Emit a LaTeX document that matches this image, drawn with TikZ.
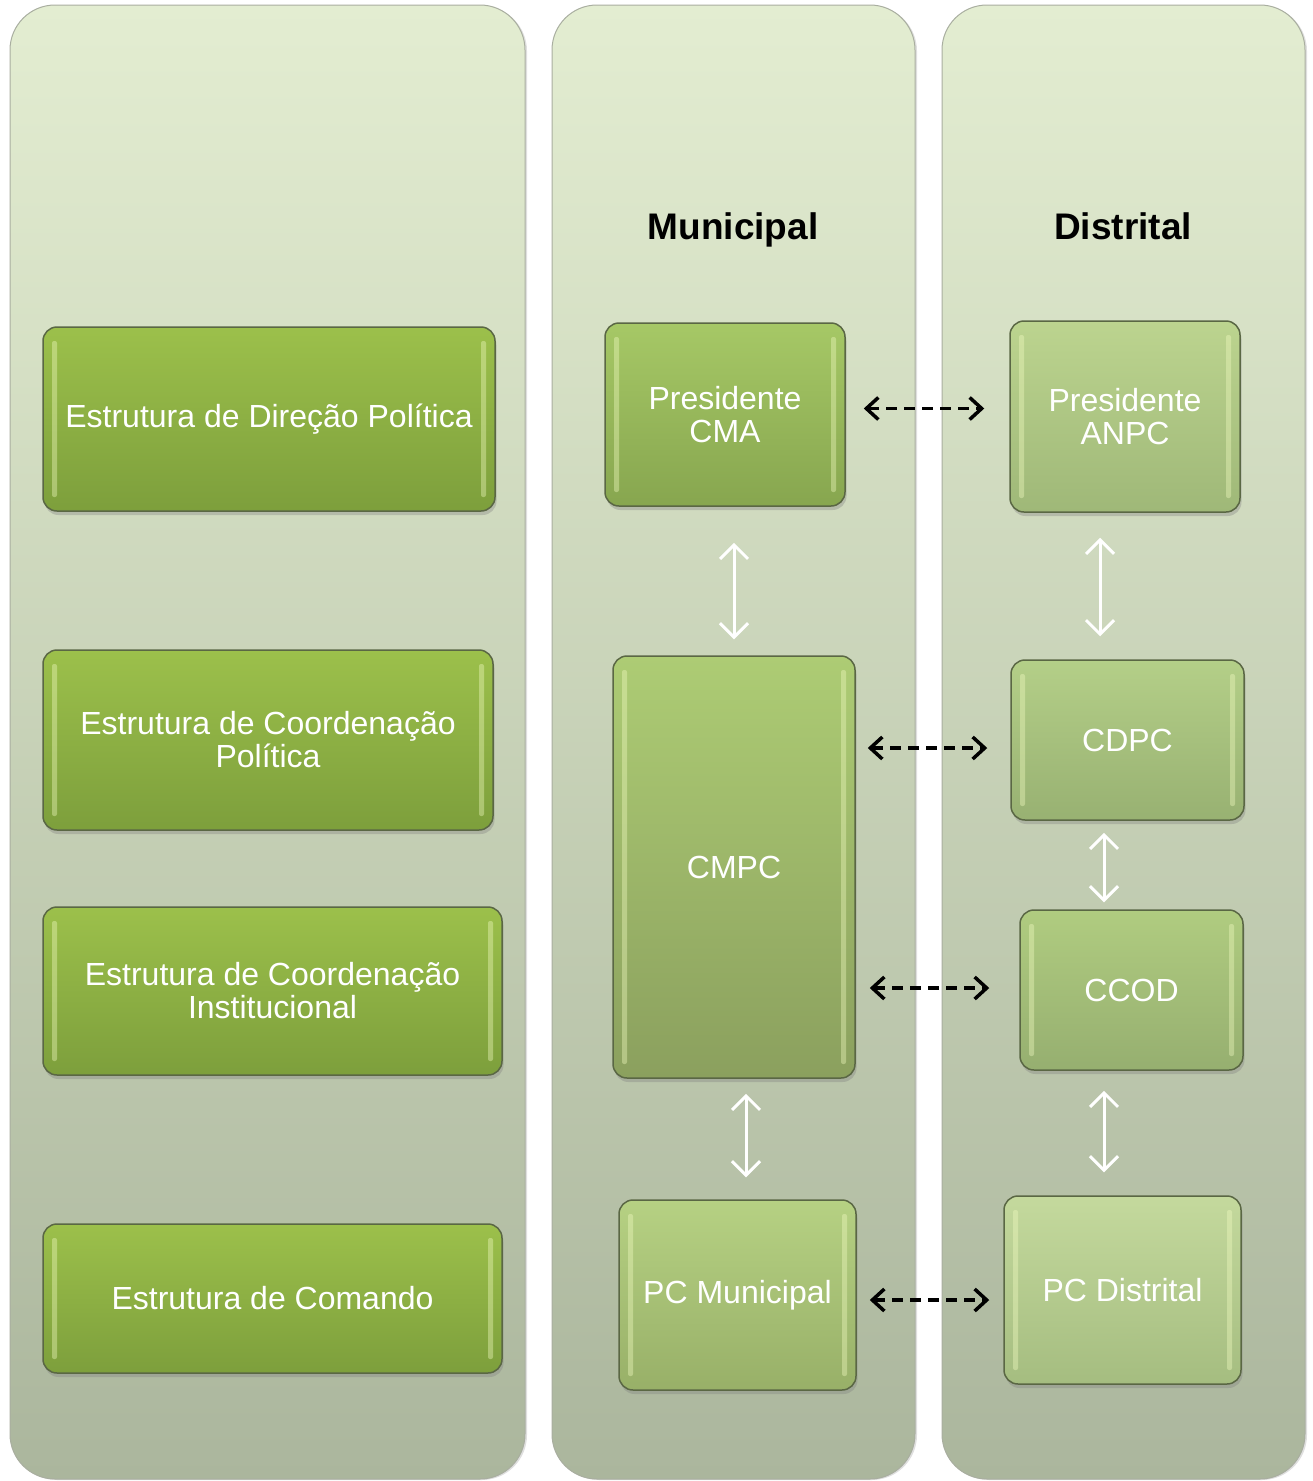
\documentclass[tikz,border=0pt]{standalone}
\usepackage{fontspec}
\setmainfont{Liberation Sans}
\usepackage{tikz}
\usetikzlibrary{positioning,arrows.meta,calc,shadows}
\definecolor{panelTop}{HTML}{E3EDD1}
\definecolor{panelBot}{HTML}{ABB69D}
\definecolor{panelEdge}{HTML}{A9AEA0}
\definecolor{boxEdge}{HTML}{5A6744}
\definecolor{hiLite}{HTML}{F0FAC0}
\definecolor{levTop}{HTML}{9CC04B}
\definecolor{levBot}{HTML}{7D9F3C}
\definecolor{cmaTop}{HTML}{A6C866}
\definecolor{cmaBot}{HTML}{87A64F}
\definecolor{cmpcTop}{HTML}{ADCC74}
\definecolor{cmpcBot}{HTML}{8BA05E}
\definecolor{pcmTop}{HTML}{B6D183}
\definecolor{pcmBot}{HTML}{98B068}
\definecolor{anpcTop}{HTML}{BCD48F}
\definecolor{anpcBot}{HTML}{9FB878}
\definecolor{cdpcTop}{HTML}{B4CF88}
\definecolor{cdpcBot}{HTML}{98B172}
\definecolor{ccodTop}{HTML}{B0CC80}
\definecolor{ccodBot}{HTML}{96AF70}
\definecolor{pcdTop}{HTML}{C4D99D}
\definecolor{pcdBot}{HTML}{A5BD80}
\tikzset{
  painel/.style={rounded corners=45pt, top color=panelTop, bottom color=panelBot, draw=panelEdge, line width=1pt,
    drop shadow={shadow xshift=2pt, shadow yshift=-1pt, opacity=.25}},
  realce/.style={path picture={
      \fill[hiLite, opacity=.4, rounded corners=2pt] ([xshift=9pt,yshift=-14pt]path picture bounding box.north west) rectangle ([xshift=14pt,yshift=14pt]path picture bounding box.south west);
      \fill[hiLite, opacity=.4, rounded corners=2pt] ([xshift=-14pt,yshift=-14pt]path picture bounding box.north east) rectangle ([xshift=-9pt,yshift=14pt]path picture bounding box.south east);
    }},
  bloco/.style={draw=boxEdge, line width=1.5pt, rounded corners=14pt, top color=#1Top, bottom color=#1Bot,
    text=white, align=center, inner sep=2pt, font=\fontsize{32}{33}\selectfont,
    drop shadow={shadow xshift=1.5pt, shadow yshift=-4pt, opacity=.35}, realce},
  titulo/.style={font=\fontsize{37}{38}\selectfont\bfseries, anchor=base},
  dasharrow/.style={{Straight Barb[length=12pt,width=22pt]}-{Straight Barb[length=12pt,width=22pt]}, line width=3.5pt, dash pattern=on 11pt off 7pt},
  wharrow/.style={{Straight Barb[length=14pt,width=28pt]}-{Straight Barb[length=14pt,width=28pt]}, white, line width=3pt}
}

\begin{document}
\begin{tikzpicture}[x=1pt, y=-1pt]
\useasboundingbox (0,0) rectangle (1313,1481);
% columns
\draw[painel] (10,5) rectangle (525,1479);
\draw[painel] (552,5) rectangle (915,1479);
\draw[painel] (942,5) rectangle (1305,1479);
\node[titulo] (tmun) at (733,239) {Municipal};
\node[titulo] (tdis) at (1123,239) {Distrital};
% levels
\node[bloco=lev, minimum width=452pt, minimum height=184pt] (dirpol) at (269,419) {Estrutura de Direção Política};
\node[bloco=lev, minimum width=450pt, minimum height=180pt] (coopol) at (268,740) {Estrutura de Coordenação\\Política};
\node[bloco=lev, minimum width=459pt, minimum height=168pt] (cooins) at (272.5,991) {Estrutura de Coordenação\\Institucional};
\node[bloco=lev, minimum width=459pt, minimum height=149pt] (coman) at (272.5,1298.5) {Estrutura de Comando};
% municipal
\node[bloco=cma, minimum width=240pt, minimum height=183pt] (pcma) at (725,414.5) {Presidente\\CMA};
\node[bloco=cmpc, minimum width=242pt, minimum height=422pt] (cmpc) at (734,867) {CMPC};
\node[bloco=pcm, minimum width=237pt, minimum height=190pt] (pcmun) at (737.5,1295) {PC Municipal};
% distrital
\node[bloco=anpc, minimum width=230pt, minimum height=191pt] (panpc) at (1125,416.5) {Presidente\\ANPC};
\node[bloco=cdpc, minimum width=233pt, minimum height=160pt] (cdpc) at (1127.5,740) {CDPC};
\node[bloco=ccod, minimum width=223pt, minimum height=160pt] (ccod) at (1131.5,990) {CCOD};
\node[bloco=pcd, minimum width=237pt, minimum height=188pt] (pcdis) at (1122.5,1290) {PC Distrital};
% links between levels
\draw[dasharrow, shorten <=18pt, shorten >=25pt] ([yshift=6pt]pcma.east) -- ([yshift=6pt]pcma.east -| panpc.west);
\draw[dasharrow, shorten <=12pt, shorten >=23pt] ([yshift=-8pt]cmpc.east |- cdpc.west) -- ([yshift=-8pt]cdpc.west);
\draw[dasharrow, shorten <=14pt, shorten >=30pt] ([yshift=2pt]cmpc.east |- ccod.west) -- ([yshift=2pt]ccod.west);
\draw[dasharrow, shorten <=13pt, shorten >=14pt] ([yshift=-5pt]pcmun.east) -- ([yshift=-5pt]pcmun.east -| pcdis.west);
% vertical links
\draw[wharrow, shorten <=36pt, shorten >=16pt] (pcma.south -| cmpc.north) -- (cmpc.north);
\draw[wharrow, shorten <=15pt, shorten >=22pt] ([xshift=12pt]cmpc.south) -- ([xshift=12pt]cmpc.south |- pcmun.north);
\draw[wharrow, shorten <=25pt, shorten >=23pt] ([xshift=-25pt]panpc.south) -- ([xshift=-25pt]panpc.south |- cdpc.north);
\draw[wharrow, shorten <=12pt, shorten >=7pt] ([xshift=-23.5pt]cdpc.south) -- ([xshift=-23.5pt]cdpc.south |- ccod.north);
\draw[wharrow, shorten <=20pt, shorten >=23pt] ([xshift=-27.5pt]ccod.south) -- ([xshift=-27.5pt]ccod.south |- pcdis.north);
\end{tikzpicture}
\end{document}
